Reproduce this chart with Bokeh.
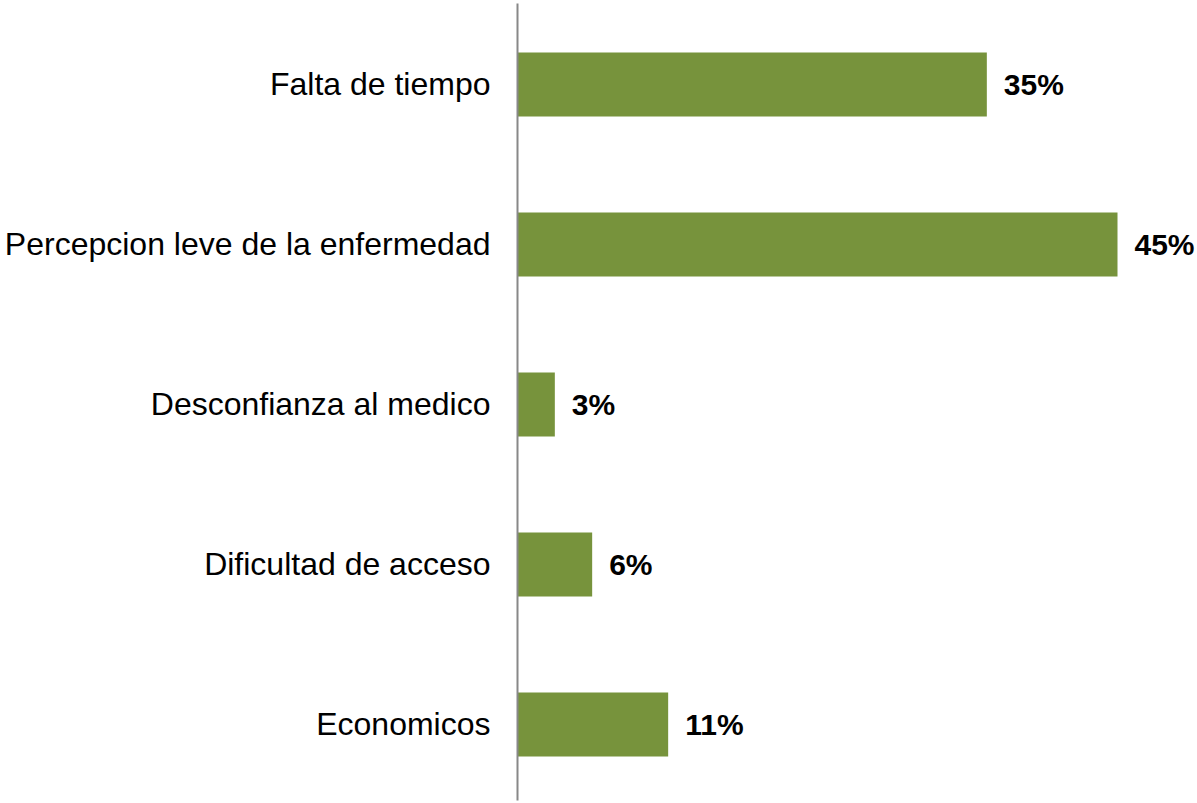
from bokeh.plotting import figure
from bokeh.models import ColumnDataSource, Range1d, FixedTicker
from bokeh.core.properties import value
from bokeh.embed import file_html
from bokeh.resources import INLINE

categories = ["Economicos", "Dificultad de acceso", "Desconfianza al medico",
              "Percepcion leve de la enfermedad", "Falta de tiempo"]
values = [11.3, 5.6, 2.8, 45.0, 35.2]
labels = ["11%", "6%", "3%", "45%", "35%"]
positions = list(range(len(categories)))

source = ColumnDataSource(dict(y=positions, v=values, lab=labels, cat=categories))

p = figure(width=1197, height=803, output_backend="svg", toolbar_location=None,
           x_range=Range1d(0, 51.0), y_range=Range1d(-0.475, 4.506),
           min_border_left=517, min_border_right=0, min_border_top=3, min_border_bottom=3)

p.hbar(y="y", left=0, right="v", height=0.4, source=source,
       fill_color="#77933C", line_color=None)

p.text(x="v", y="y", text="lab", source=source, x_offset=17,
       text_align="left", text_baseline="middle",
       text_font=value("Liberation Sans"), text_font_style="bold",
       text_font_size="30px", text_color="black")

p.xaxis.visible = False
p.xgrid.visible = False
p.ygrid.visible = False
p.outline_line_color = None

ya = p.yaxis[0]
ya.ticker = FixedTicker(ticks=positions)
ya.major_label_overrides = {i: c for i, c in zip(positions, categories)}
ya.major_tick_line_color = None
ya.minor_tick_line_color = None
ya.major_tick_out = 0
ya.major_tick_in = 0
ya.major_label_standoff = 27
ya.axis_line_color = "#888888"
ya.axis_line_width = 2
ya.major_label_text_font = "Liberation Sans"
ya.major_label_text_font_size = "32px"
ya.major_label_text_color = "black"

open("out.html", "w").write(file_html(p, INLINE))
